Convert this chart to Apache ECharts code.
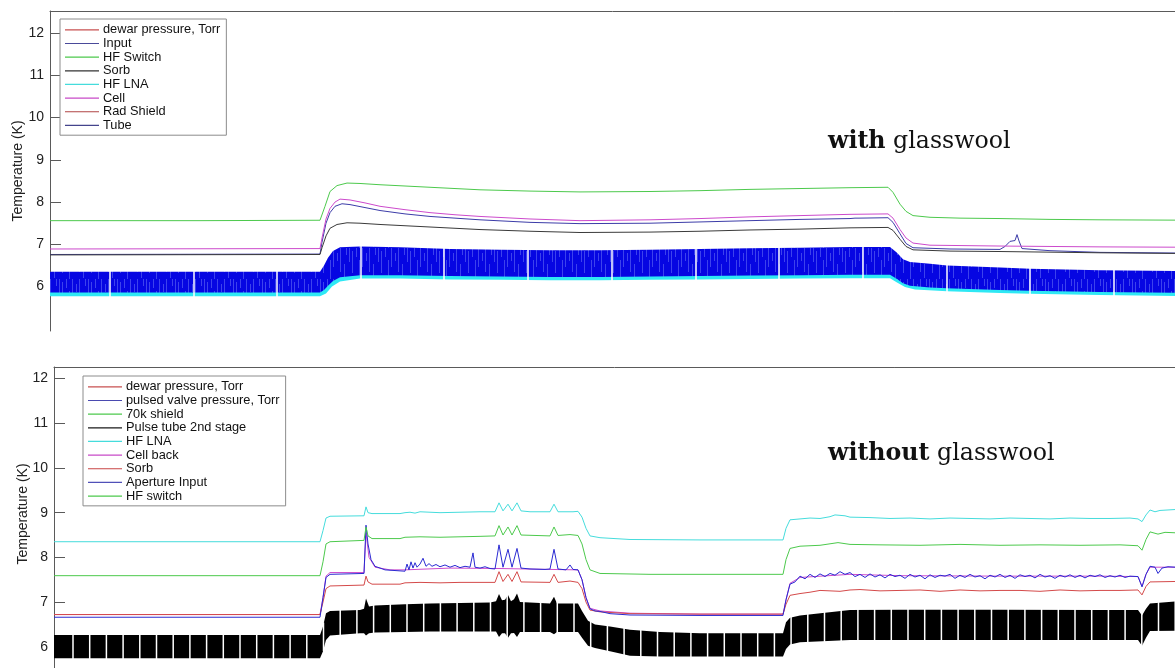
<!DOCTYPE html>
<html>
<head>
<meta charset="utf-8">
<script src="https://cdn.jsdelivr.net/npm/echarts@6/dist/echarts.min.js"></script>
<style>
  html, body { margin: 0; padding: 0; background: #fff; }
  #chart { width: 1175px; height: 668px; }
</style>
</head>
<body>
<div id="chart"></div>
<script>
// Cryostat temperature logs, two runs. x = elapsed time (arbitrary units), y = K.
const tempTicks = [6, 7, 8, 9, 10, 11, 12];

// ---- Run 1: with glasswool ----
const hfSwitchTop = [[0,7.56],[150,7.56],[270,7.57],[271,7.60],[275,7.90],[280,8.25],[287,8.39],[297,8.45],[310,8.44],[330,8.41],[380,8.35],[430,8.29],[480,8.26],[530,8.24],[600,8.25],[650,8.27],[700,8.30],[750,8.32],[800,8.34],[838,8.35],[843,8.23],[850,7.95],[856,7.78],[863,7.68],[880,7.64],[910,7.62],[950,7.61],[1000,7.59],[1050,7.58],[1150,7.57]];
const cellTop = [[0,6.89],[270,6.90],[272,7.15],[276,7.60],[280,7.85],[285,8.00],[290,8.07],[300,8.05],[315,7.98],[330,7.90],[355,7.82],[380,7.75],[405,7.70],[430,7.66],[480,7.60],[530,7.56],[600,7.58],[650,7.61],[700,7.65],[750,7.68],[800,7.71],[838,7.72],[843,7.62],[850,7.35],[856,7.15],[863,7.03],[880,6.98],[950,6.96],[1050,6.94],[1150,6.93]];
const inputTop = [[0,6.76],[270,6.77],[272,7.05],[276,7.50],[280,7.75],[285,7.90],[292,7.96],[300,7.94],[315,7.87],[330,7.80],[355,7.72],[380,7.66],[430,7.58],[480,7.52],[530,7.49],[600,7.50],[650,7.53],[700,7.56],[750,7.59],[800,7.61],[805,7.62],[807,7.66],[809,7.62],[838,7.63],[843,7.52],[850,7.25],[856,7.02],[863,6.92],[900,6.89],[950,6.88],[955,6.95],[960,7.07],[965,7.09],[967,7.23],[969,7.08],[972,6.90],[1000,6.85],[1050,6.81],[1150,6.79]];
const sorbTop = [[0,6.75],[270,6.76],[272,6.92],[276,7.20],[280,7.38],[287,7.47],[297,7.51],[310,7.50],[330,7.47],[380,7.41],[430,7.35],[480,7.31],[530,7.28],[600,7.29],[650,7.31],[700,7.34],[750,7.36],[800,7.39],[838,7.40],[843,7.33],[850,7.12],[856,6.95],[863,6.87],[900,6.84],[950,6.83],[1050,6.80],[1150,6.78]];
// pulse-tube cycling: [t, lower envelope, upper envelope]
const tubeBandTop = [[0,5.86,6.35],[270,5.86,6.35],[274,5.92,6.50],[278,6.02,6.68],[283,6.13,6.84],[290,6.22,6.93],[310,6.27,6.95],[350,6.27,6.93],[400,6.25,6.89],[450,6.24,6.87],[500,6.23,6.86],[550,6.23,6.86],[600,6.24,6.87],[650,6.25,6.89],[700,6.26,6.91],[750,6.27,6.92],[800,6.28,6.94],[840,6.28,6.94],[847,6.18,6.80],[853,6.08,6.65],[860,6.02,6.58],[880,5.98,6.54],[897,5.96,6.50],[950,5.92,6.45],[980,5.90,6.42],[1050,5.87,6.39],[1150,5.85,6.36]];
const hfLnaBandTop = [[0,5.77,5.98],[270,5.77,5.98],[276,5.84,6.06],[282,6.00,6.22],[290,6.12,6.34],[310,6.19,6.39],[350,6.19,6.39],[400,6.17,6.37],[450,6.16,6.36],[500,6.15,6.35],[550,6.15,6.35],[600,6.16,6.36],[650,6.17,6.37],[700,6.18,6.38],[750,6.19,6.39],[800,6.20,6.40],[840,6.20,6.40],[847,6.10,6.30],[855,5.99,6.18],[865,5.93,6.12],[897,5.89,6.08],[950,5.85,6.04],[980,5.83,6.02],[1050,5.80,5.99],[1150,5.77,5.97]];
// logger restarts (no samples)
const gapsTop = [60,144,227,311,394,478,562,646,729,813,897,980,1064];

// ---- Run 2: without glasswool ----
const hfLnaBottom = [[0,8.35],[266,8.35],[269,8.60],[272,8.88],[276,8.92],[310,8.93],[312,9.13],[314,9.00],[318,8.98],[346,8.98],[351,9.00],[356,9.01],[361,8.99],[366,9.02],[376,9.01],[386,9.00],[406,9.01],[426,9.02],[441,9.02],[445,9.22],[449,9.04],[454,9.19],[458,9.04],[463,9.22],[467,9.04],[476,9.02],[496,9.02],[500,9.19],[504,9.02],[514,9.02],[516,9.05],[519,9.02],[524,9.03],[528,8.90],[532,8.65],[536,8.48],[546,8.44],[576,8.40],[646,8.39],[729,8.39],[732,8.65],[736,8.84],[746,8.86],[756,8.88],[766,8.87],[776,8.91],[781,8.95],[786,8.94],[791,8.93],[796,8.90],[816,8.89],[836,8.87],[856,8.88],[876,8.86],[896,8.88],[916,8.87],[936,8.86],[956,8.88],[976,8.87],[996,8.86],[1016,8.88],[1036,8.87],[1056,8.87],[1076,8.88],[1084,8.86],[1088,8.80],[1092,8.95],[1096,9.06],[1101,9.02],[1106,9.05],[1121,9.07],[1146,9.07]];
const hfSwitchBottom = [[0,7.59],[266,7.59],[269,7.90],[272,8.30],[276,8.35],[310,8.38],[312,8.68],[314,8.48],[318,8.42],[346,8.42],[351,8.45],[366,8.46],[386,8.45],[406,8.46],[426,8.47],[441,8.48],[445,8.71],[449,8.50],[454,8.68],[458,8.50],[463,8.71],[467,8.50],[496,8.48],[500,8.68],[504,8.49],[516,8.51],[524,8.49],[528,8.30],[532,7.95],[536,7.72],[546,7.64],[596,7.62],[729,7.62],[732,7.95],[736,8.20],[746,8.25],[766,8.27],[784,8.33],[796,8.29],[826,8.28],[866,8.27],[906,8.29],[946,8.27],[986,8.28],[1026,8.27],[1066,8.28],[1084,8.26],[1088,8.16],[1092,8.40],[1096,8.57],[1104,8.52],[1111,8.56],[1121,8.55],[1146,8.55]];
const sorbBottom = [[0,6.72],[266,6.72],[269,7.00],[272,7.30],[276,7.36],[310,7.38],[312,7.58],[314,7.45],[318,7.40],[346,7.40],[351,7.43],[366,7.44],[386,7.43],[406,7.44],[426,7.44],[441,7.44],[445,7.68],[449,7.46],[454,7.62],[458,7.46],[463,7.68],[467,7.45],[496,7.44],[500,7.62],[504,7.44],[516,7.47],[524,7.44],[528,7.30],[532,7.00],[536,6.82],[546,6.78],[576,6.74],[646,6.73],[729,6.73],[732,6.95],[736,7.15],[746,7.19],[756,7.22],[766,7.26],[776,7.25],[786,7.24],[796,7.27],[806,7.28],[826,7.25],[846,7.26],[866,7.27],[886,7.24],[906,7.27],[926,7.25],[946,7.26],[966,7.26],[986,7.24],[1006,7.27],[1026,7.25],[1046,7.26],[1066,7.26],[1084,7.27],[1088,7.16],[1092,7.35],[1096,7.45],[1121,7.46],[1146,7.46]];
const cellBackBottom = [[0,6.72],[266,6.72],[269,7.10],[272,7.58],[276,7.66],[310,7.66],[312,8.55],[315,8.00],[321,7.78],[336,7.72],[351,7.72],[396,7.76],[446,7.75],[496,7.73],[524,7.72],[528,7.50],[532,7.10],[536,6.86],[546,6.80],[576,6.75],[646,6.73],[729,6.73],[732,7.05],[736,7.42],[746,7.55],[796,7.62],[846,7.59],[946,7.58],[1046,7.58],[1084,7.57],[1088,7.35],[1092,7.62],[1096,7.78],[1121,7.78],[1146,7.78]];
const apertureBottom = [[0,6.66],[266,6.66],[269,7.10],[272,7.55],[276,7.62],[310,7.64],[312,8.72],[314,8.30],[317,7.95],[321,7.80],[331,7.72],[351,7.69],[353,7.85],[355,7.72],[357,7.90],[359,7.76],[361,7.88],[363,7.78],[366,7.85],[369,7.98],[372,7.80],[375,7.86],[378,7.80],[382,7.84],[386,7.79],[391,7.83],[396,7.78],[401,7.82],[406,7.77],[411,7.80],[416,7.78],[419,8.10],[421,7.78],[426,7.76],[431,7.79],[436,7.75],[441,7.74],[445,8.28],[449,7.78],[454,8.18],[458,7.78],[463,8.20],[467,7.76],[476,7.74],[491,7.73],[496,7.74],[500,8.18],[504,7.74],[512,7.72],[516,7.83],[519,7.73],[524,7.72],[528,7.50],[532,7.10],[536,6.85],[541,6.80],[546,6.79],[556,6.74],[576,6.71],[646,6.70],[729,6.70],[732,7.05],[736,7.40],[741,7.45],[746,7.58],[751,7.52],[756,7.62],[761,7.55],[766,7.63],[771,7.57],[776,7.64],[781,7.60],[786,7.68],[791,7.62],[796,7.66],[801,7.57],[806,7.62],[811,7.55],[816,7.63],[821,7.56],[826,7.61],[831,7.54],[836,7.62],[841,7.57],[846,7.60],[851,7.53],[856,7.62],[861,7.56],[866,7.60],[871,7.52],[876,7.61],[881,7.55],[886,7.60],[891,7.58],[896,7.62],[901,7.53],[906,7.60],[911,7.55],[916,7.62],[921,7.56],[926,7.59],[931,7.52],[936,7.60],[941,7.56],[946,7.62],[951,7.55],[956,7.60],[961,7.53],[966,7.61],[971,7.57],[976,7.60],[981,7.54],[986,7.62],[991,7.56],[996,7.59],[1001,7.53],[1006,7.60],[1011,7.56],[1016,7.61],[1021,7.55],[1026,7.60],[1031,7.54],[1036,7.60],[1041,7.57],[1046,7.61],[1051,7.55],[1056,7.59],[1061,7.56],[1066,7.60],[1071,7.55],[1076,7.58],[1084,7.57],[1088,7.34],[1092,7.62],[1096,7.80],[1101,7.78],[1104,7.64],[1108,7.76],[1114,7.79],[1121,7.78],[1146,7.78]];
const pulseTubeBandBottom = [[0,5.74,6.26],[266,5.74,6.26],[269,5.90,6.45],[272,6.15,6.75],[276,6.25,6.80],[306,6.30,6.82],[310,6.30,6.85],[312,6.25,7.08],[315,6.30,6.90],[321,6.32,6.92],[351,6.33,6.95],[376,6.34,6.97],[406,6.34,6.98],[436,6.34,6.99],[442,6.34,7.02],[445,6.22,7.18],[448,6.30,7.04],[451,6.30,7.05],[454,6.20,7.16],[457,6.30,7.02],[460,6.31,7.06],[463,6.22,7.19],[466,6.33,7.00],[496,6.33,6.97],[500,6.28,7.12],[503,6.33,6.97],[524,6.33,6.97],[528,6.20,6.80],[534,6.02,6.58],[541,5.97,6.50],[556,5.90,6.45],[576,5.80,6.38],[606,5.78,6.33],[646,5.78,6.30],[729,5.78,6.30],[732,5.95,6.55],[736,6.05,6.65],[746,6.10,6.70],[796,6.15,6.82],[846,6.15,6.83],[946,6.15,6.83],[1046,6.15,6.82],[1084,6.15,6.82],[1088,6.02,6.70],[1092,6.20,6.85],[1096,6.35,6.97],[1121,6.36,7.01],[1146,6.36,7.01]];
const gapsBottom = [19,35.7,52.4,69.1,85.8,102.5,119.2,135.9,152.6,169.3,186,202.7,219.4,236.1,252.8,269.5,286.2,302.9,319.6,336.3,353,369.7,386.4,403.1,419.8,436.5,453.2,469.9,486.6,503.3,520,536.7,553.4,570.1,586.8,603.5,620.2,636.9,653.6,670.3,687,703.7,720.4,737.1,753.8,770.5,787.2,803.9,820.6,837.3,854,870.7,887.4,904.1,920.8,937.5,954.2,970.9,987.6,1004.3,1021,1037.7,1054.4,1071.1,1087.8,1104.5,1121.2];

const legendTop = [
  ['dewar pressure, Torr', '#c85050'], ['Input', '#4a4a9a'], ['HF Switch', '#4cc94c'], ['Sorb', '#333333'],
  ['HF LNA', '#45dcdc'], ['Cell', '#c84ac8'], ['Rad Shield', '#b04444'], ['Tube', '#44448c']
];
const legendBottom = [
  ['dewar pressure, Torr', '#c85050'], ['pulsed valve pressure, Torr', '#4a4ab0'], ['70k shield', '#4cc94c'],
  ['Pulse tube 2nd stage', '#1a1a1a'], ['HF LNA', '#45dcdc'], ['Cell back', '#c84ac8'], ['Sorb', '#c84444'],
  ['Aperture Input', '#5050b8'], ['HF switch', '#4cc94c']
];

const FONT = '"Liberation Sans", Helvetica, Arial, sans-serif';
const SERIF = '"DejaVu Serif", serif';

// Dense pulse-tube cycling renders as a blue field with paler streaks.
function streakFill(base, streak) {
  const c = document.createElement('canvas');
  c.width = 29; c.height = 31;
  const g = c.getContext('2d');
  g.fillStyle = base; g.fillRect(0, 0, c.width, c.height);
  g.fillStyle = streak;
  [[1, 0, 14], [4, 3, 25], [8, 0, 9], [11, 12, 31], [14, 0, 19], [18, 5, 13], [21, 0, 24], [25, 16, 30], [27, 0, 7]]
    .forEach(([x, y0, y1]) => g.fillRect(x, y0, 1, y1 - y0));
  return { image: c, repeat: 'repeat' };
}

// linear read-out of an envelope column at time x (used only to size the gap strokes)
function envelopeAt(rows, x, col) {
  for (let i = 0; i < rows.length - 1; i++) {
    const a = rows[i], b = rows[i + 1];
    if (x >= a[0] && x <= b[0]) {
      const f = (x - a[0]) / (b[0] - a[0] || 1);
      return a[col] + f * (b[col] - a[col]);
    }
  }
  return rows[rows.length - 1][col];
}

function lineSeries(name, data, color, idx, z) {
  return {
    type: 'line', name, data, xAxisIndex: idx, yAxisIndex: idx,
    showSymbol: false, symbol: 'none', silent: true, z: z || 2,
    lineStyle: { color, width: 1 }, itemStyle: { color }
  };
}

function bandSeries(name, rows, color, idx, z, fill, gaps, floorRows) {
  return {
    type: 'custom', name, data: rows, xAxisIndex: idx, yAxisIndex: idx, z: z || 2,
    encode: { x: 0, y: [1, 2] }, silent: true, itemStyle: { color },
    renderItem(params, api) {
      if (params.dataIndex !== 0) return null;
      const upper = rows.map(r => api.coord([r[0], r[2]]));
      const lower = rows.map(r => api.coord([r[0], r[1]])).reverse();
      const children = [{ type: 'polygon', shape: { points: upper.concat(lower) }, style: { fill: fill || color } }];
      (gaps || []).forEach(g => {
        const base = floorRows || rows;
        const p0 = api.coord([g, envelopeAt(base, g, 1) - 0.04]);
        const p1 = api.coord([g, envelopeAt(rows, g, 2) + 0.04]);
        children.push({ type: 'line', shape: { x1: p0[0], y1: p0[1], x2: p1[0], y2: p1[1] },
          style: { stroke: '#ffffff', lineWidth: 1.5 } });
      });
      return { type: 'group', children };
    }
  };
}

function yAxisFor(idx, min, max) {
  return {
    type: 'value', gridIndex: idx, min, max,
    axisLine: { show: true, onZero: false, lineStyle: { color: '#5a5a5a', width: 1 } },
    axisTick: { show: true, inside: true, length: 11, customValues: tempTicks, lineStyle: { color: '#5a5a5a' } },
    axisLabel: { customValues: tempTicks, fontSize: 14, fontFamily: FONT, color: '#222', margin: 6 },
    splitLine: { show: false }
  };
}
function xAxisFor(idx, max) {
  return {
    type: 'value', gridIndex: idx, min: 0, max, position: 'top',
    axisLine: { show: true, onZero: false, lineStyle: { color: '#5a5a5a', width: 1 } },
    axisTick: { show: false }, axisLabel: { show: false }, splitLine: { show: false }
  };
}
function legendFor(items, left, top) {
  return {
    orient: 'vertical', left, top, icon: 'rect', itemWidth: 34, itemHeight: 1.2, itemGap: 0,
    selectedMode: false, backgroundColor: '#fff', borderColor: '#8c8c8c', borderWidth: 1, borderRadius: 0,
    padding: [4, 6, 3, 5],
    textStyle: { fontSize: 12.8, lineHeight: 13.65, fontFamily: FONT, color: '#111', padding: [0, 0, 0, -1] },
    data: items.map(([name, color]) => ({ name, itemStyle: { color } }))
  };
}
function annotation(x, y, bold, rest) {
  return {
    type: 'text', x, y,
    style: { text: '{b|' + bold + '} ' + rest, fontSize: 23.7, fontFamily: SERIF, fill: '#111',
             align: 'left', verticalAlign: 'middle', textAlign: 'left', textVerticalAlign: 'middle',
             rich: { b: { fontWeight: 'bold', fontSize: 23.7, fontFamily: SERIF, fill: '#111' } } }
  };
}
function axisName(x, y) {
  return {
    type: 'text', x, y, rotation: Math.PI / 2,
    style: { text: 'Temperature (K)', fontSize: 14, fontFamily: FONT, fill: '#222',
             align: 'center', verticalAlign: 'middle', textAlign: 'center', textVerticalAlign: 'middle' }
  };
}

const option = {
  animation: false,
  backgroundColor: '#fff',
  grid: [
    { left: 50, top: 11, width: 1125, height: 320 },
    { left: 54, top: 367, width: 1121, height: 301 }
  ],
  xAxis: [xAxisFor(0, 1125), xAxisFor(1, 1121)],
  yAxis: [yAxisFor(0, 4.95, 12.52), yAxisFor(1, 5.524, 12.26)],
  legend: [legendFor(legendTop, 60, 19), legendFor(legendBottom, 83, 376)],
  graphic: [
    axisName(18, 171),
    axisName(23, 514),
    annotation(828, 142, 'with', 'glasswool'),
    annotation(828, 454, 'without', 'glasswool')
  ],
  series: [
    // run 1 (drawing order follows the logger channel order)
    lineSeries('dewar pressure, Torr', [], '#c85050', 0),
    lineSeries('Input', inputTop, '#3c3ca8', 0),
    lineSeries('HF Switch', hfSwitchTop, '#4cc94c', 0),
    lineSeries('Sorb', sorbTop, '#3a3a3a', 0),
    bandSeries('HF LNA', hfLnaBandTop, '#2ee8f4', 0, 3),
    lineSeries('Cell', cellTop, '#cc4acc', 0),
    lineSeries('Rad Shield', [], '#b04444', 0),
    bandSeries('Tube', tubeBandTop, '#0b0be2', 0, 4, streakFill('#0606e2', 'rgba(150,165,255,0.38)'), gapsTop, hfLnaBandTop),
    // run 2
    lineSeries('dewar pressure, Torr', [], '#c85050', 1),
    lineSeries('pulsed valve pressure, Torr', [], '#4a4ab0', 1),
    lineSeries('70k shield', [], '#4cc94c', 1),
    bandSeries('Pulse tube 2nd stage', pulseTubeBandBottom, '#000000', 1, 3, null, gapsBottom),
    lineSeries('HF LNA', hfLnaBottom, '#45dcdc', 1, 4),
    lineSeries('Cell back', cellBackBottom, '#cc4acc', 1, 4),
    lineSeries('Sorb', sorbBottom, '#d44a4a', 1, 4),
    lineSeries('Aperture Input', apertureBottom, '#2a2ad2', 1, 4),
    lineSeries('HF switch', hfSwitchBottom, '#4cc94c', 1, 4)
  ]
};

const chart = echarts.init(document.getElementById('chart'), null, { renderer: 'canvas' });
chart.setOption(option);
</script>
</body>
</html>
